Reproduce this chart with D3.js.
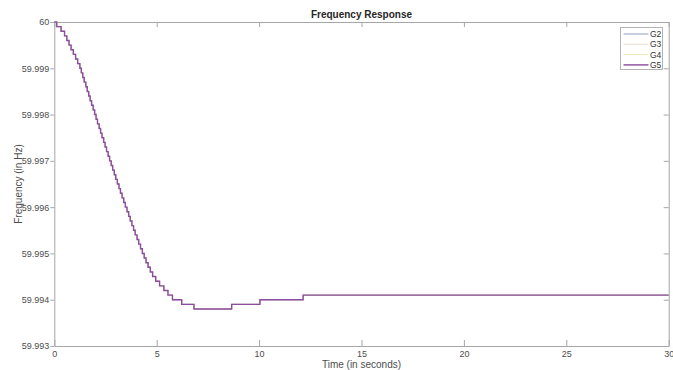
<!DOCTYPE html>
<html>
<head>
<meta charset="utf-8">
<script src="https://cdn.jsdelivr.net/npm/d3@7"></script>
<style>
  body { margin: 0; background: #fff; }
  svg { font-family: "Liberation Sans", Arial, sans-serif; }
</style>
</head>
<body>
<div id="chart"></div>
<script>
// data (frequency is held in 0.1 mHz steps)
const timeSec = [0, 0.12, 0.33, 0.50, 0.61, 0.72, 0.82, 0.93, 1.04, 1.14,
  1.25, 1.32, 1.39, 1.46, 1.54, 1.61, 1.68, 1.75, 1.82, 1.90,
  1.97, 2.04, 2.11, 2.19, 2.26, 2.33, 2.41, 2.48, 2.55, 2.63,
  2.70, 2.78, 2.85, 2.93, 3.00, 3.08, 3.16, 3.23, 3.31, 3.39,
  3.47, 3.55, 3.63, 3.71, 3.79, 3.87, 3.95, 4.04, 4.12, 4.21,
  4.30, 4.39, 4.48, 4.58, 4.69, 4.80, 4.95, 5.14, 5.35, 5.55,
  5.77, 6.22, 6.82, 8.66, 10.04, 12.15, 30];
const freqHz = [60, 59.9999, 59.9998, 59.9997, 59.9996, 59.9995, 59.9994, 59.9993, 59.9992, 59.9991,
  59.9990, 59.9989, 59.9988, 59.9987, 59.9986, 59.9985, 59.9984, 59.9983, 59.9982, 59.9981,
  59.9980, 59.9979, 59.9978, 59.9977, 59.9976, 59.9975, 59.9974, 59.9973, 59.9972, 59.9971,
  59.9970, 59.9969, 59.9968, 59.9967, 59.9966, 59.9965, 59.9964, 59.9963, 59.9962, 59.9961,
  59.9960, 59.9959, 59.9958, 59.9957, 59.9956, 59.9955, 59.9954, 59.9953, 59.9952, 59.9951,
  59.9950, 59.9949, 59.9948, 59.9947, 59.9946, 59.9945, 59.9944, 59.9943, 59.9942, 59.9941,
  59.9940, 59.9939, 59.9938, 59.9939, 59.9940, 59.9941, 59.9941];
const seriesNames = ["G2", "G3", "G4", "G5"];
const seriesColors = ["#8fa3c4", "#e9dccb", "#ede6b4", "#8c4c9f"];
const xTicks = [0, 5, 10, 15, 20, 25, 30];
const yTicks = [59.993, 59.994, 59.995, 59.996, 59.997, 59.998, 59.999, 60];

const svgWidth = 673;
const svgHeight = 370;
const plot = { left: 54.3, right: 668.7, top: 22, bottom: 346 };

const svg = d3.select("#chart")
  .append("svg")
  .attr("width", svgWidth)
  .attr("height", svgHeight);

const x = d3.scaleLinear().domain([0, 30]).range([plot.left, plot.right]);
const y = d3.scaleLinear().domain([59.993, 60]).range([plot.bottom, plot.top]);

const points = timeSec.map((t, i) => ({ t: t, f: freqHz[i] }));

const axisCol = "#a6a6a6";
const textCol = "#4d4d4d";
const fmt = d => String(+d.toFixed(3));

// axes
const bottomAxis = svg.append("g")
  .attr("transform", `translate(0,${plot.bottom})`)
  .call(d3.axisBottom(x).tickValues(xTicks).tickSizeInner(-6).tickSizeOuter(0).tickPadding(5));
const topAxis = svg.append("g")
  .attr("transform", `translate(0,${plot.top})`)
  .call(d3.axisTop(x).tickValues(xTicks).tickSizeInner(-5).tickSizeOuter(0).tickFormat(""));
const leftAxis = svg.append("g")
  .attr("transform", `translate(${plot.left},0)`)
  .call(d3.axisLeft(y).tickValues(yTicks).tickSizeInner(4).tickSizeOuter(0).tickPadding(1).tickFormat(fmt));
const rightAxis = svg.append("g")
  .attr("transform", `translate(${plot.right},0)`)
  .call(d3.axisRight(y).tickValues(yTicks).tickSizeInner(-5).tickSizeOuter(0).tickFormat(""));

[bottomAxis, topAxis, leftAxis, rightAxis].forEach(g => {
  g.select(".domain").attr("stroke", axisCol);
  g.selectAll(".tick line").attr("stroke", axisCol);
  g.selectAll(".tick text").attr("fill", textCol).style("font-size", "9px");
});

// lines (all generators overlap, G5 drawn last on top)
const line = d3.line()
  .x(d => x(d.t))
  .y(d => y(d.f))
  .curve(d3.curveStepAfter);

seriesNames.forEach((name, i) => {
  svg.append("path")
    .datum(points)
    .attr("fill", "none")
    .attr("stroke", seriesColors[i])
    .attr("stroke-width", i === 3 ? 1.4 : 1)
    .attr("d", line);
});

// title and labels
svg.append("text")
  .attr("x", (plot.left + plot.right) / 2)
  .attr("y", 18)
  .attr("text-anchor", "middle")
  .style("font-size", "10px")
  .style("font-weight", "bold")
  .attr("fill", "#262626")
  .text("Frequency Response");

svg.append("text")
  .attr("x", (plot.left + plot.right) / 2)
  .attr("y", 367.5)
  .attr("text-anchor", "middle")
  .style("font-size", "10px")
  .attr("fill", textCol)
  .text("Time (in seconds)");

svg.append("text")
  .attr("transform", "rotate(-90)")
  .attr("x", -(plot.top + plot.bottom) / 2)
  .attr("y", 22)
  .attr("text-anchor", "middle")
  .style("font-size", "10px")
  .attr("fill", textCol)
  .text("Frequency (in Hz)");

// legend
const legend = svg.append("g").attr("transform", "translate(620.5,27.5)");
legend.append("rect")
  .attr("width", 42)
  .attr("height", 42)
  .attr("fill", "#fff")
  .attr("stroke", "#b3b3b3");
seriesNames.forEach((name, i) => {
  const ly = 6.5 + i * 10.3;
  legend.append("line")
    .attr("x1", 3).attr("x2", 28)
    .attr("y1", ly).attr("y2", ly)
    .attr("stroke", seriesColors[i])
    .attr("stroke-width", i === 3 ? 1.4 : 1);
  legend.append("text")
    .attr("x", 29.5)
    .attr("y", ly + 3)
    .style("font-size", "8.5px")
    .attr("fill", "#333")
    .text(name);
});
</script>
</body>
</html>
